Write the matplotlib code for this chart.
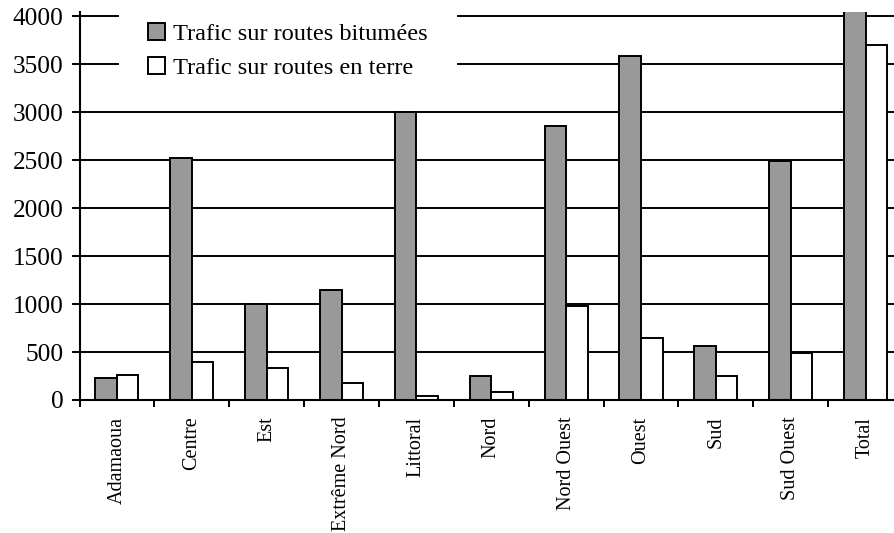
import matplotlib
matplotlib.use("Agg")
import matplotlib.pyplot as plt
import numpy as np
from matplotlib.ticker import FixedLocator, NullFormatter

categories = ["Adamaoua", "Centre", "Est", "Extrême Nord", "Littoral", "Nord",
              "Nord Ouest", "Ouest", "Sud", "Sud Ouest", "Total"]
bitumees = [230, 2520, 1000, 1150, 3000, 245, 2850, 3580, 560, 2490, 17600]
terre = [265, 400, 330, 175, 45, 85, 980, 645, 245, 490, 3700]
yticks = [0, 500, 1000, 1500, 2000, 2500, 3000, 3500, 4000]

plt.rcParams['font.family'] = ['Liberation Serif', 'DejaVu Serif']

W, H = 895, 533
fig = plt.figure(figsize=(W / 100, H / 100), dpi=100)
ax = fig.add_axes([79.5 / W, (H - 400) / H, (903 - 79.5) / W, (400 - 11.7) / H])

x = np.arange(len(categories))
bw = 0.288
ax.bar(x - bw / 2, bitumees, bw, color="#999999", edgecolor="black", linewidth=1.4,
       label="Trafic sur routes bitumées", zorder=2)
ax.bar(x + bw / 2, terre, bw, color="white", edgecolor="black", linewidth=1.4,
       label="Trafic sur routes en terre", zorder=2)

ax.set_xlim(-0.5, len(categories) - 0.5)
ax.set_ylim(0, 4045)
ax.set_yticks(yticks)
ax.set_yticklabels([str(v) for v in yticks], fontsize=18.3)
ax.yaxis.grid(True, color="black", linewidth=1.4)
ax.set_axisbelow(True)
ax.tick_params(axis="y", direction="out", length=5.5, width=1.4, pad=6)

ax.set_xticks(x)
ax.set_xticklabels(categories, rotation=90, fontsize=14.5, va="top")
ax.tick_params(axis="x", which="major", length=0, pad=12)
ax.xaxis.set_minor_locator(FixedLocator(np.arange(-0.5, len(categories), 1.0)))
ax.xaxis.set_minor_formatter(NullFormatter())
ax.tick_params(axis="x", which="minor", direction="out", length=5, width=1.4)

for s in ["top", "right"]:
    ax.spines[s].set_visible(False)
for s in ["left", "bottom"]:
    ax.spines[s].set_linewidth(1.5)

leg = ax.legend(loc="upper left", bbox_to_anchor=(0.033, 1.078), fontsize=17.6,
                frameon=True, facecolor="white", edgecolor="none", framealpha=1,
                fancybox=False, borderpad=1.2, labelspacing=0.5,
                handlelength=0.7, handleheight=0.7, handletextpad=0.3)

fig.savefig("out.png", dpi=100)
